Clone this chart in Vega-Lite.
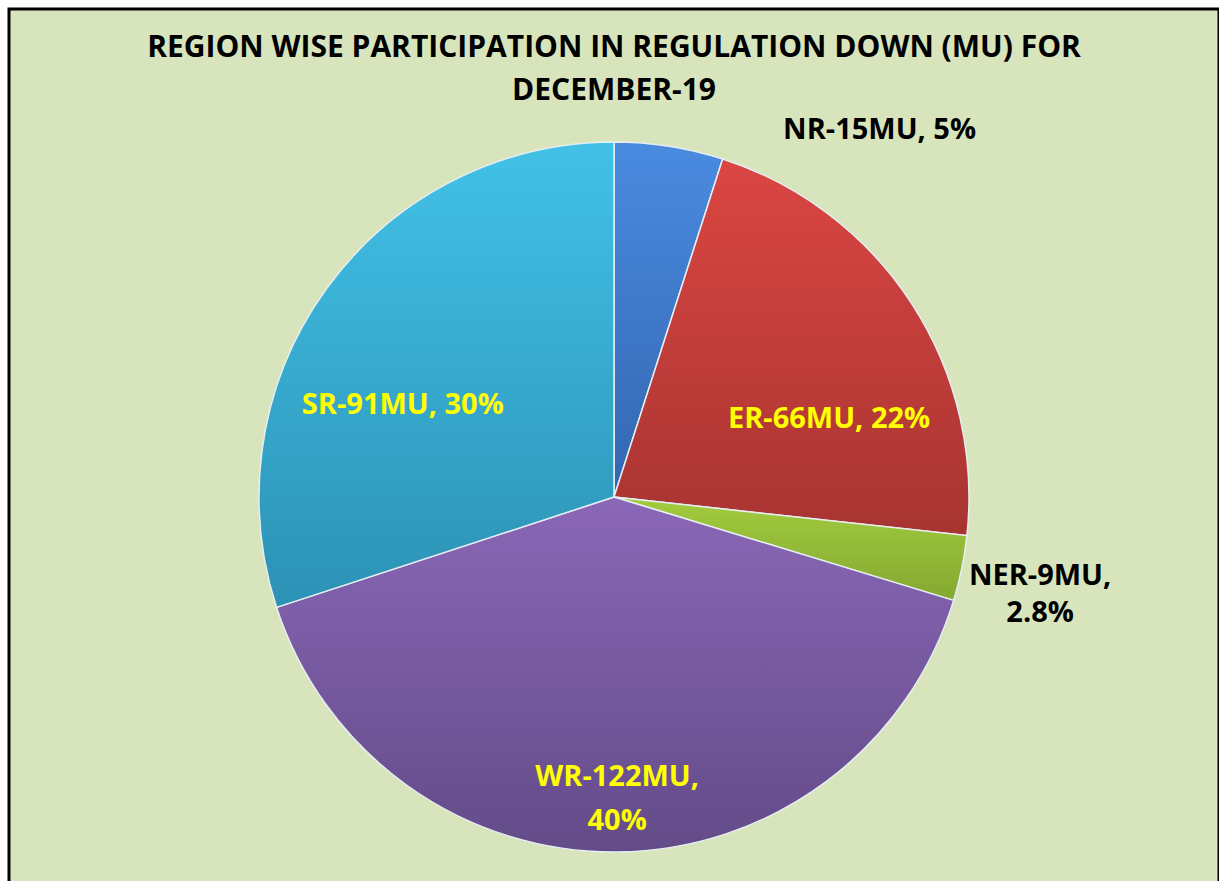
{
  "$schema": "https://vega.github.io/schema/vega-lite/v6.json",
  "autosize": {"type": "none"},
  "padding": {"left": 9, "top": 9, "right": 0, "bottom": 0},
  "width": 1210,
  "height": 976,
  "background": "white",
  "view": {"fill": "#d8e4bc", "stroke": "black", "strokeWidth": 3},
  "title": {
    "text": ["REGION WISE PARTICIPATION IN REGULATION DOWN (MU) FOR", "DECEMBER-19"],
    "font": "Open Sans",
    "fontSize": 30,
    "fontWeight": "bold",
    "color": "black",
    "anchor": "middle",
    "lineHeight": 43,
    "dy": 101
  },
  "data": {
    "values": [
      {"region": "NR", "value": 15, "order": 1, "label": "NR-15MU, 5%"},
      {"region": "ER", "value": 66, "order": 2, "label": "ER-66MU, 22%"},
      {"region": "NER", "value": 9, "order": 3, "label": "NER-9MU,\n2.8%"},
      {"region": "WR", "value": 122, "order": 4, "label": "WR-122MU,\n40%"},
      {"region": "SR", "value": 91, "order": 5, "label": "SR-91MU, 30%"}
    ]
  },
  "encoding": {
    "theta": {"field": "value", "type": "quantitative", "stack": true},
    "order": {"field": "order", "type": "quantitative"}
  },
  "layer": [
    {
      "mark": {"type": "arc", "outerRadius": 355, "stroke": "#e6eef2", "strokeWidth": 1.5},
      "encoding": {
        "fill": {
          "condition": [
            {"test": "datum.region === 'NR'", "value": {"gradient": "linear", "x1": 0, "y1": 0, "x2": 0, "y2": 1, "stops": [{"offset": 0, "color": "#4a8be0"}, {"offset": 1, "color": "#3366b0"}]}},
            {"test": "datum.region === 'ER'", "value": {"gradient": "linear", "x1": 0, "y1": 0, "x2": 0, "y2": 1, "stops": [{"offset": 0, "color": "#db4643"}, {"offset": 1, "color": "#a73431"}]}},
            {"test": "datum.region === 'NER'", "value": {"gradient": "linear", "x1": 0, "y1": 0, "x2": 0, "y2": 1, "stops": [{"offset": 0, "color": "#a2cc3e"}, {"offset": 1, "color": "#84a831"}]}},
            {"test": "datum.region === 'WR'", "value": {"gradient": "linear", "x1": 0, "y1": 0, "x2": 0, "y2": 1, "stops": [{"offset": 0, "color": "#8a67b7"}, {"offset": 1, "color": "#634b88"}]}}
          ],
          "value": {"gradient": "linear", "x1": 0, "y1": 0, "x2": 0, "y2": 1, "stops": [{"offset": 0, "color": "#42c1e7"}, {"offset": 1, "color": "#2c92b5"}]}
        }
      }
    },
    {
      "mark": {"type": "text", "radius": 225, "dx": -29, "dy": 40, "font": "Open Sans", "fontSize": 29, "fontWeight": "bold", "color": "#ffff00", "align": "center", "baseline": "middle"},
      "encoding": {"text": {"condition": {"test": "datum.region === 'SR'", "field": "label"}, "value": ""}}
    },
    {
      "mark": {"type": "text", "radius": 223, "dx": 28, "dy": 43, "font": "Open Sans", "fontSize": 29, "fontWeight": "bold", "color": "#ffff00", "align": "center", "baseline": "middle"},
      "encoding": {"text": {"condition": {"test": "datum.region === 'ER'", "field": "label"}, "value": ""}}
    },
    {
      "mark": {"type": "text", "radius": 301, "dx": 0, "dy": -21, "lineBreak": "\n", "lineHeight": 44, "font": "Open Sans", "fontSize": 29, "fontWeight": "bold", "color": "#ffff00", "align": "center", "baseline": "middle"},
      "encoding": {"text": {"condition": {"test": "datum.region === 'WR'", "field": "label"}, "value": ""}}
    },
    {
      "mark": {"type": "text", "radius": 437, "dx": -2, "dy": -9, "lineBreak": "\n", "lineHeight": 37, "font": "Open Sans", "fontSize": 29, "fontWeight": "bold", "color": "black", "align": "center", "baseline": "middle"},
      "encoding": {"text": {"condition": {"test": "datum.region === 'NER'", "field": "label"}, "value": ""}}
    },
    {
      "mark": {"type": "text", "radius": 404, "dx": 203, "dy": 32, "font": "Open Sans", "fontSize": 29, "fontWeight": "bold", "color": "black", "align": "center", "baseline": "middle"},
      "encoding": {"text": {"condition": {"test": "datum.region === 'NR'", "field": "label"}, "value": ""}}
    }
  ]
}
